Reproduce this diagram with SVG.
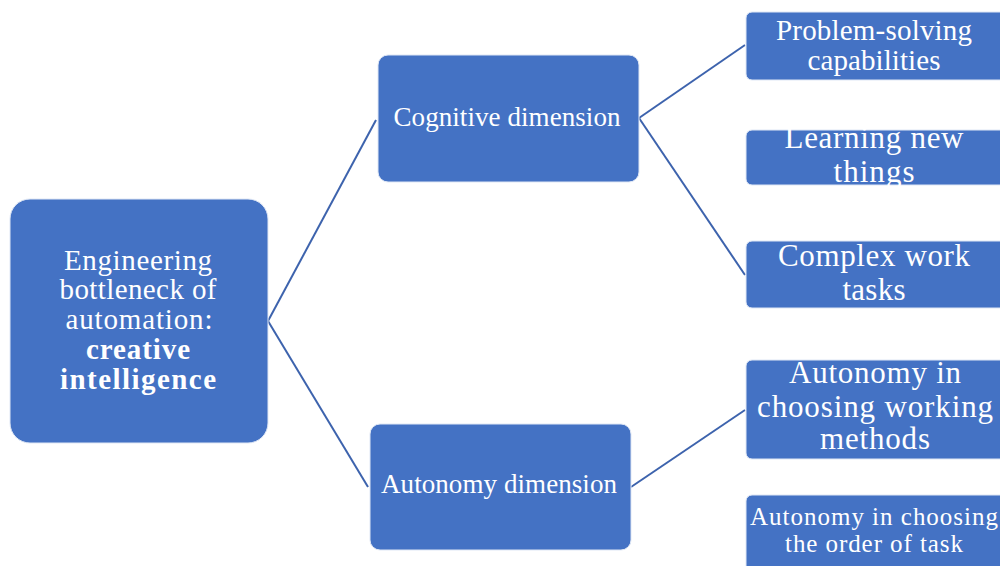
<svg xmlns="http://www.w3.org/2000/svg" width="1000" height="566" viewBox="0 0 1000 566">
<style>
.box{fill:#4472C4;stroke:#dfe7f5;stroke-width:1}
.t{fill:#ffffff;font-family:"Liberation Serif","DejaVu Serif",serif;text-anchor:middle}
.b{font-weight:bold}
.c{stroke:#3d63ad;stroke-width:2;fill:none}
</style>
<rect width="1000" height="566" fill="#ffffff"/>
<g id="connectors">
<line class="c" x1="268" y1="321" x2="376" y2="120"/>
<line class="c" x1="268" y1="321" x2="368" y2="487"/>
<line class="c" x1="639" y1="118" x2="745" y2="45"/>
<line class="c" x1="639" y1="118" x2="745" y2="275"/>
<line class="c" x1="631" y1="487" x2="745" y2="410"/>
</g>
<g id="root">
<rect class="box" x="10" y="199" width="258" height="244" rx="20"/>
<text class="t" font-size="29" x="138" y="270" textLength="148">Engineering</text>
<text class="t" font-size="29" x="138" y="299" textLength="157">bottleneck of</text>
<text class="t" font-size="29" x="139" y="329" textLength="147">automation:</text>
<text class="t b" font-size="29" x="138" y="359" textLength="104">creative</text>
<text class="t b" font-size="29" x="138" y="389" textLength="156">intelligence</text>
</g>
<g id="cognitive">
<rect class="box" x="378" y="55" width="261" height="127" rx="10"/>
<text class="t" font-size="27" x="507" y="126" textLength="227">Cognitive dimension</text>
</g>
<g id="autonomy">
<rect class="box" x="370" y="424" width="261" height="126" rx="10"/>
<text class="t" font-size="27" x="499" y="493" textLength="236">Autonomy dimension</text>
</g>
<g id="problem">
<rect class="box" x="746" y="12" width="270" height="68" rx="6"/>
<text class="t" font-size="29" x="874" y="40" textLength="196">Problem-solving</text>
<text class="t" font-size="29" x="874" y="70" textLength="133">capabilities</text>
</g>
<g id="learning">
<rect class="box" x="746" y="130" width="270" height="55" rx="6"/>
<text class="t" font-size="31" x="874" y="148" textLength="179">Learning new</text>
<text class="t" font-size="31" x="874" y="182" textLength="81">things</text>
</g>
<g id="complex">
<rect class="box" x="746" y="241" width="270" height="67" rx="6"/>
<text class="t" font-size="31" x="874" y="266" textLength="192">Complex work</text>
<text class="t" font-size="31" x="874" y="300" textLength="63">tasks</text>
</g>
<g id="methods">
<rect class="box" x="746" y="360" width="270" height="99" rx="6"/>
<text class="t" font-size="31" x="875" y="383" textLength="172">Autonomy in</text>
<text class="t" font-size="31" x="875" y="417" textLength="236">choosing working</text>
<text class="t" font-size="31" x="875" y="449" textLength="110">methods</text>
</g>
<g id="order">
<rect class="box" x="746" y="495" width="270" height="80" rx="6"/>
<text class="t" font-size="25" x="874" y="525" textLength="248">Autonomy in choosing</text>
<text class="t" font-size="25" x="874" y="552" textLength="178">the order of task</text>
</g>
</svg>
